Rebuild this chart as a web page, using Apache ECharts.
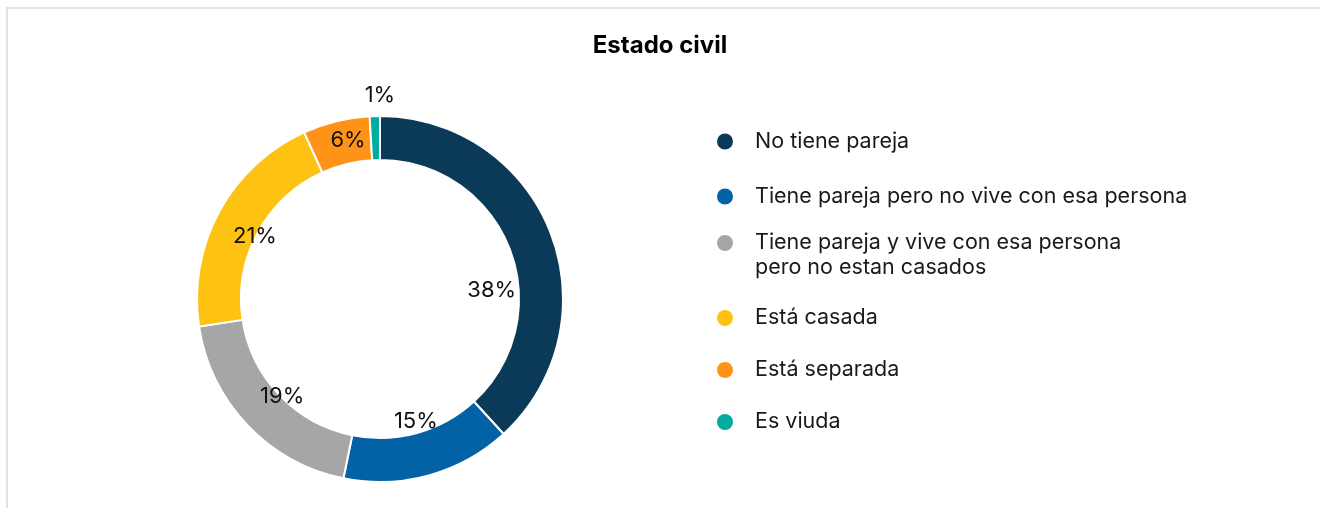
<!DOCTYPE html>
<html>
<head>
<meta charset="utf-8">
<script src="https://cdn.jsdelivr.net/npm/echarts@6/dist/echarts.min.js"></script>
<style>
  html, body { margin: 0; padding: 0; background: #fff; overflow: hidden; }
  .card { position: absolute; left: 6px; top: 7px; width: 1400px; height: 600px; border: 2px solid #e3e3e3; box-sizing: border-box; }
  #chart { position: absolute; left: 0; top: 0; width: 1320px; height: 508px; }
</style>
</head>
<body>
<div class="card"></div>
<div id="chart"></div>
<script>
// datos del gráfico
const categories = [
  'No tiene pareja',
  'Tiene pareja pero no vive con esa persona',
  'Tiene pareja y vive con esa persona\npero no estan casados',
  'Está casada',
  'Está separada',
  'Es viuda'
]
const values = [38.2, 15.0, 19.4, 20.6, 5.9, 0.9]
const colors = ['#0b3958', '#0361a5', '#a6a6a6', '#fec212', '#fe9317', '#00ab9f']

const font = 'Inter, "Noto Sans", sans-serif'
const cx = 380
const cy = 299
// radio y giro de cada etiqueta (px, grados)
const labelRadius = [112, 128, 138, 140, 162, 204]
const labelTurn = [17, -0.8, -1.3, -1.7, 2.5, 1.6]
const total = values.reduce((a, b) => a + b, 0)

const myChart = echarts.init(document.getElementById('chart'))

const legendBase = {
  orient: 'vertical',
  left: 715,
  icon: 'circle',
  itemWidth: 50,
  itemHeight: 18,
  padding: 0,
  selectedMode: false,
  // la etiqueta de dos líneas lleva una línea vacía delante para que el círculo quede en la primera
  formatter: (name) => (name.indexOf('\n') >= 0 ? '\n' + name : name),
  textStyle: { fontSize: 21.5, lineHeight: 25, color: '#1a1a1a', fontFamily: font }
}

const option = {
  color: colors,
  title: {
    text: 'Estado civil',
    left: 'center',
    top: 34,
    padding: 0,
    textStyle: { fontSize: 24, fontWeight: 'bold', color: '#000', fontFamily: font }
  },
  legend: [
    Object.assign({}, legendBase, { top: 129, itemGap: 30, data: categories.slice(0, 2) }),
    Object.assign({}, legendBase, { top: 205.5, data: [categories[2]] }),
    Object.assign({}, legendBase, { top: 305.5, itemGap: 27, data: categories.slice(3) })
  ],
  series: [
    {
      type: 'pie',
      center: [cx, cy],
      radius: [139, 183],
      startAngle: 90,
      clockwise: true,
      percentPrecision: 0,
      itemStyle: { borderColor: '#fff', borderWidth: 2 },
      emphasis: { disabled: true },
      label: {
        show: true,
        position: 'inside',
        formatter: '{d}%',
        fontSize: 22,
        color: '#111',
        fontFamily: font
      },
      labelLine: { show: false },
      labelLayout: function (params) {
        const i = params.dataIndex
        let before = 0
        for (let k = 0; k < i; k++) before += values[k]
        const ang = (((before + values[i] / 2) / total) * 360 + labelTurn[i]) * Math.PI / 180
        return {
          x: cx + labelRadius[i] * Math.sin(ang),
          y: cy - labelRadius[i] * Math.cos(ang),
          align: 'center',
          verticalAlign: 'middle'
        }
      },
      data: categories.map((name, i) => ({ name: name, value: values[i] }))
    }
  ]
}

myChart.setOption(option)
</script>
</body>
</html>
